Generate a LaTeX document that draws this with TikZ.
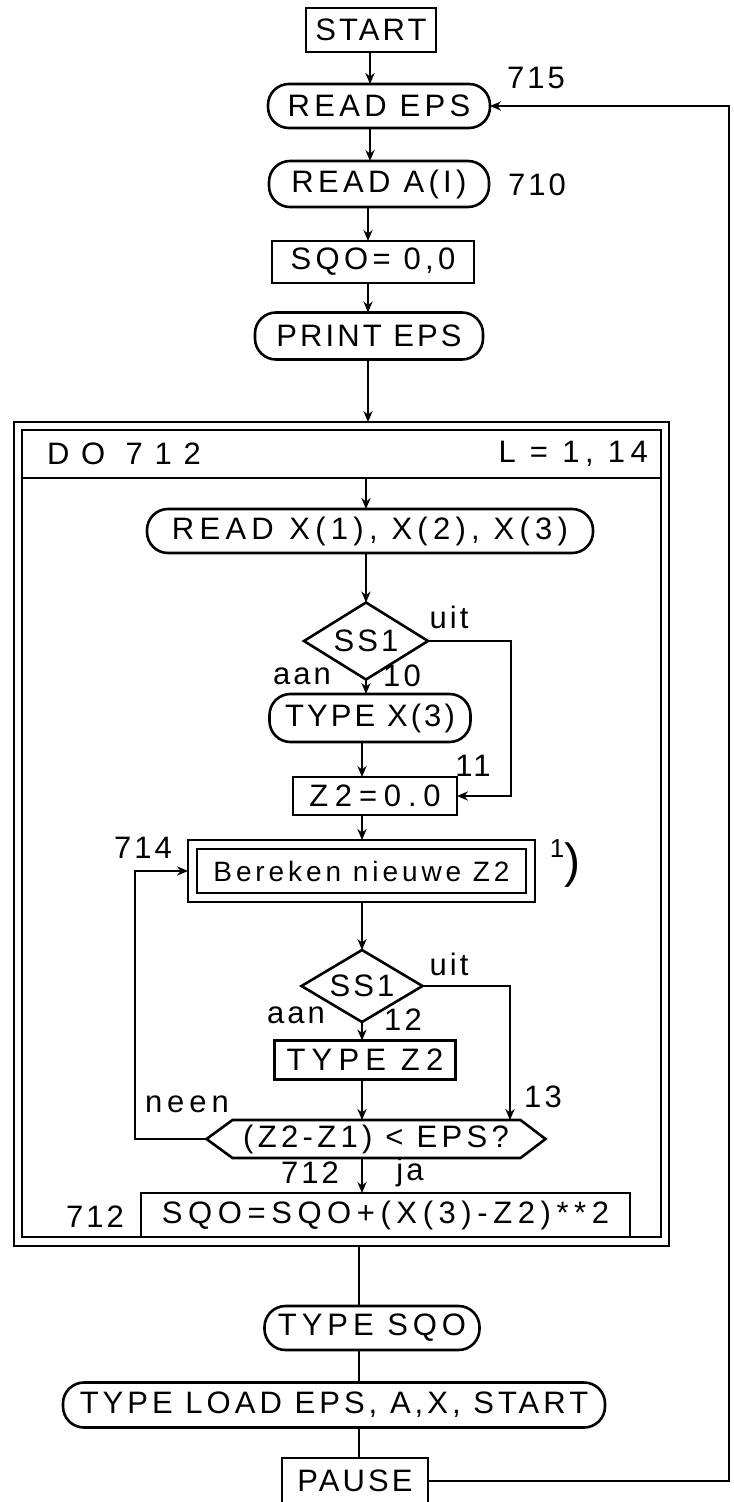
\documentclass[tikz,border=0pt]{standalone}
\usepackage{fontspec}
\setmainfont{Liberation Sans}[LetterSpace=10]
\usetikzlibrary{arrows.meta,fit,shapes.geometric,calc}
\begin{document}
\begin{tikzpicture}[x=0.5pt,y=-0.5pt,line width=1.3pt,
  >={Stealth[length=5.5pt,width=4.6pt]},
  every node/.style={inner sep=0pt,outer sep=0pt,font=\fontsize{15.5}{18}\selectfont},
  sz/.style 2 args={minimum width=#1*0.5pt,minimum height=#2*0.5pt},
  pbox/.style={draw,rectangle},
  rbox/.style={draw,rectangle,rounded corners=10.5pt},
  dia/.style={draw,diamond,aspect=1.6}]
\useasboundingbox (0,0) rectangle (733,1502);
% axis coordinates
\coordinate (ax0) at (370,0);
\coordinate (ax1) at (368,0);
\coordinate (ax2) at (366,0);
\coordinate (ax3) at (362,0);
\coordinate (ax4) at (359,0);
\coordinate (rx) at (729,0);
\coordinate (ux) at (511,0);
\coordinate (ux2) at (510,0);
\coordinate (nx) at (135,0);
% top section
\node[pbox,sz={130}{44}] (start) at (371,30) {START};
\node[rbox,sz={222}{44}] (readeps) at (379,106) {\addfontfeature{LetterSpace=14}READ EPS};
\node[rbox,sz={220}{46}] (reada) at (379,184) {\addfontfeature{LetterSpace=14}READ A(I)};
\node[pbox,sz={202}{42}] (sqo0) at (373,262) {\addfontfeature{LetterSpace=14}SQO= 0,0};
\node[rbox,sz={228}{47}] (printeps) at (369,336) {PRINT EPS};
\node (l715) at (536,78) {715};
\node (l710) at (537,185) {710};
% loop frame
\node[draw,sz={655}{824}] (frameout) at (341.5,834) {};
\node[draw,sz={639}{807}] (framein) at (341.5,833.5) {};
\coordinate (hdl) at (22,478);
\coordinate (hdr) at (661,478);
\draw (hdl) -- (hdr);
\node[anchor=west] (do) at (47,454) {\addfontfeature{LetterSpace=38}DO 712};
\node[anchor=east] (lrange) at (648,454) {\addfontfeature{LetterSpace=18}L = 1, 14};
% loop body
\node[rbox,sz={446}{44}] (readx) at (370,531) {\addfontfeature{LetterSpace=17}READ\enspace X(1), X(2), X(3)};
\node[dia,sz={124}{77}] (ss1a) at (366,641) {SS1};
\node[rbox,sz={201}{48}] (typex3) at (370,718) {TYPE X(3)};
\node[pbox,sz={164}{38}] (z2) at (375,796) {\addfontfeature{LetterSpace=22}Z2=0.0};
\node[pbox,sz={329}{44}] (bereken) at (361.5,871) {\fontsize{14}{16}\selectfont\addfontfeature{LetterSpace=14}Bereken nieuwe Z2};
\node[draw,fit=(bereken),inner sep=4.5pt] (berout) {};
\node[dia,sz={121}{72}] (ss1b) at (362,986) {SS1};
\node[pbox,sz={181}{39}] (typez2) at (365,1060) {\addfontfeature{LetterSpace=20}TYPE Z2};
\node[sz={339}{38}] (hex) at (376,1139) {\addfontfeature{LetterSpace=14}(Z2-Z1) < EPS?};
\draw (hex.west) -- ($(hex.north west)+(26,0)$) -- ($(hex.north east)+(-25,0)$) -- (hex.east)
  -- ($(hex.south east)+(-25,0)$) -- ($(hex.south west)+(26,0)$) -- cycle;
\node[pbox,sz={489}{44}] (sqonew) at (385.5,1215) {\addfontfeature{LetterSpace=18}SQO=SQO+(X(3)-Z2)**2};
% labels inside
\node (uit1) at (449,617) {uit};
\node (aan1) at (302,676) {aan};
\node (n10) at (402,676) {10};
\node (n11) at (473,766) {11};
\node (n714) at (143,848) {714};
\node (fn) at (565,864) {{\fontsize{13}{13}\selectfont\raisebox{10pt}{1}}{\fontsize{24}{24}\selectfont)}};
\node (uit2) at (449,964) {uit};
\node (aan2) at (296,1015) {aan};
\node (n12) at (403,1020) {12};
\node (n13) at (543,1097) {13};
\node (neen) at (187,1104) {\addfontfeature{LetterSpace=16}neen};
\node (n712a) at (310,1173) {712};
\node (ja) at (410,1172) {ja};
\node (n712b) at (95,1217) {712};
% bottom section
\node[rbox,sz={215}{44}] (typesqo) at (372,1328) {\addfontfeature{LetterSpace=16}TYPE SQO};
\node[rbox,sz={542}{45}] (typeload) at (334,1405) {\addfontfeature{LetterSpace=13}TYPE LOAD EPS, A,X, START};
\node[pbox,sz={146}{46}] (pause) at (355,1481) {PAUSE};
% connectors top
\draw[->] (start.south -| ax0) -- (readeps.north -| ax0);
\draw[->] (readeps.south -| ax0) -- (reada.north -| ax0);
\draw[->] (reada.south -| ax1) -- (sqo0.north -| ax1);
\draw[->] (sqo0.south -| ax1) -- (printeps.north -| ax1);
\draw[->] (printeps.south -| ax1) -- (frameout.north -| ax1);
% connectors loop
\draw[->] (hdl -| ax2) -- (readx.north -| ax2);
\draw[->] (readx.south -| ss1a) -- (ss1a.north);
\draw[->] (ss1a.south) -- (typex3.north -| ss1a);
\draw[->] (typex3.south -| ax3) -- (z2.north -| ax3);
\draw[->] (z2.south -| ax3) -- (berout.north -| ax3);
\draw[->] (berout.south -| ss1b) -- (ss1b.north);
\draw[->] (ss1b.south) -- (typez2.north -| ss1b);
\draw[->] (typez2.south -| ss1b) -- (hex.north -| ss1b);
\draw[->] (hex.south -| ss1b) -- (sqonew.north -| ss1b);
\draw[->] (ss1a.east) -- (ss1a.east -| ux) -- (z2.east -| ux) -- (z2.east);
\draw[->] (ss1b.east) -- (ss1b.east -| ux2) -- (hex.north -| ux2);
\draw[->] (hex.west) -- (hex.west -| nx) -- (berout.west -| nx) -- (berout.west);
% connectors bottom
\draw (frameout.south -| ax4) -- (typesqo.north -| ax4);
\draw (typesqo.south -| ax4) -- (typeload.north -| ax4);
\draw (typeload.south -| ax4) -- (pause.north -| ax4);
\draw[->] (pause.east) -- (pause.east -| rx) -- (readeps.east -| rx) -- (readeps.east);
\end{tikzpicture}
\end{document}
